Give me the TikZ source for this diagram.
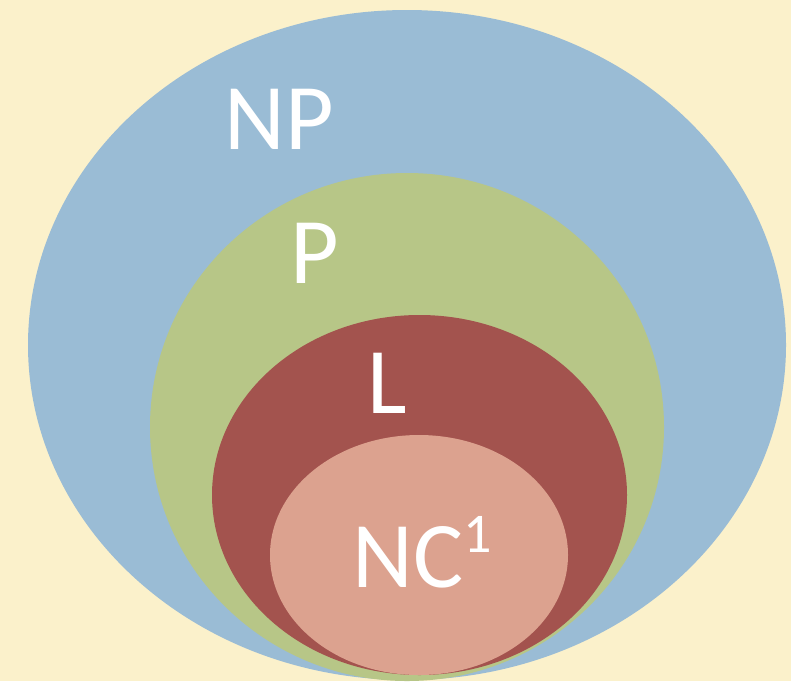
\documentclass[tikz,border=0pt]{standalone}
\usepackage{fontspec}
\setmainfont{Carlito}
\definecolor{bgcream}{HTML}{FBF1CB}
\definecolor{npblue}{HTML}{9ABCD5}
\definecolor{pgreen}{HTML}{B7C687}
\definecolor{lred}{HTML}{A3534E}
\definecolor{ncpink}{HTML}{DCA28F}
\newcommand{\classsup}[1]{\raisebox{35pt}{\fontsize{56}{56}\selectfont #1}}
\begin{document}
\begin{tikzpicture}[x=1pt,y=-1pt,
  classlabel/.style={text=white,font=\fontsize{94}{94}\selectfont,inner sep=0pt,anchor=base}]
  % canvas
  \fill[bgcream] (0,0) rectangle (791,681);
  \useasboundingbox (0,0) rectangle (791,681);
  % nested complexity classes
  \fill[npblue] (407,345) ellipse [x radius=379, y radius=335];
  \fill[pgreen] (407,427) ellipse [x radius=257, y radius=254];
  \fill[lred]   (419.5,495) ellipse [x radius=207.5, y radius=180];
  \fill[ncpink] (419,555) ellipse [x radius=149, y radius=120];
  % labels
  \node[classlabel] (np) at (279.5,149) {NP};
  \node[classlabel] (p)  at (315,283) {P};
  \node[classlabel] (l)  at (387,413) {L};
  \node[classlabel] (nc) at (422.5,587) {NC\classsup{1}};
\end{tikzpicture}
\end{document}
